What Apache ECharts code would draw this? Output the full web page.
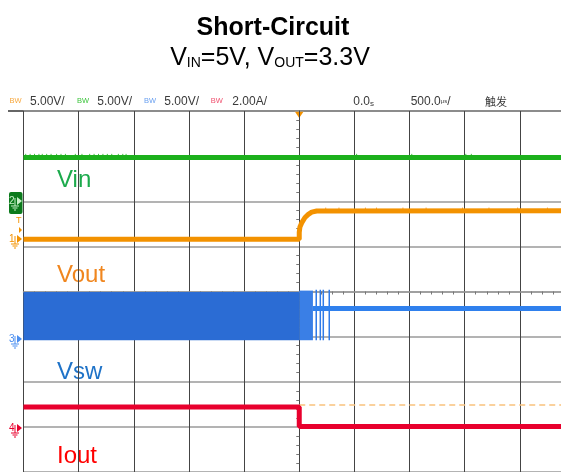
<!DOCTYPE html>
<html>
<head>
<meta charset="utf-8">
<script src="https://cdn.jsdelivr.net/npm/echarts@6/dist/echarts.min.js"></script>
<style>
  html, body { margin: 0; padding: 0; background: #fff; overflow: hidden; }
  #chart { width: 575px; height: 472px; }
</style>
</head>
<body>
<div id="chart"></div>
<script>
// 示波器截图：时间单位 us，电压单位 V，电流单位 A
var timeRange = [-2500, 2500];
var timePerDiv = 500;

// Vin (CH2)
var vinTime = [-2500, 2500];
var vinVolts = [4.85, 4.85];
// Vin 上的毛刺(时间点)
var vinSpikeTimes = [-2480, -2440, -2400, -2360, -2330, -2290, -2250, -2200, -2160, -2120,
    -2030, -1970, -1900, -1860, -1820, -1780, -1740, -1700, -1640, -1600, -1570, 520, 1020, 1510, 1560];

// Vout (CH1) 短路释放后恢复
var voutTime = [-2500, 0, 0, 6, 22, 52, 82, 113, 158, 2500];
var voutVolts = [0, 0, 0.75, 1.35, 1.8, 2.4, 2.75, 3.0, 3.12, 3.15];
var voutSpikeTimes = [240, 360, 600, 700, 940, 1150, 1480, 1720, 1980, 2250];

// Vsw (CH3) 开关带 + 之后的直流电平
var vswBandTime = [-2500, 0];
var vswBandHigh = 4.95;
var vswBandLow = -0.4;
var vswBand2Time = [0, 124];
var vswBand2High = 5.1;
var vswAfterTime = [124, 2500];
var vswAfterVolts = [3.12, 3.12];
var vswSpikeTimes = [154, 191, 218, 272];

// Iout (CH4)
var ioutTime = [-2500, 0, 0, 2500];
var ioutAmps = [0.88, 0.88, 0.02, 0.02];
var trigTime = [0, 2500];
var trigLevel = 0.97;

// 通道零点位置(格)和每格刻度
var offVin = 2, offVout = 1.16, offVsw = -1, offIout = -3;
var scaleV = 5, scaleI = 2;

function toDiv(times, vals, off, scale) {
    var out = [];
    for (var i = 0; i < times.length; i++) {
        out.push([times[i], off + vals[i] / scale]);
    }
    return out;
}

// 竖直短线(毛刺)，用 '-' 断开
function spikes(times, lo, hi, off, scale) {
    var out = [];
    for (var i = 0; i < times.length; i++) {
        out.push([times[i], off + lo / scale]);
        out.push([times[i], off + hi / scale]);
        out.push([times[i], '-']);
    }
    return out;
}

var vinData = toDiv(vinTime, vinVolts, offVin, scaleV);
var vinSpikes = spikes(vinSpikeTimes, 4.85, 5.25, offVin, scaleV);
var voutData = toDiv(voutTime, voutVolts, offVout, scaleV);
var voutSpikes = spikes(voutSpikeTimes, 3.15, 3.5, offVout, scaleV);
var vswBand = toDiv(vswBandTime, [vswBandHigh, vswBandHigh], offVsw, scaleV);
var vswBand2 = toDiv(vswBand2Time, [vswBand2High, vswBand2High], offVsw, scaleV);
var vswAfter = toDiv(vswAfterTime, vswAfterVolts, offVsw, scaleV);
var vswSpikes = spikes(vswSpikeTimes, vswBandLow, 5.2, offVsw, scaleV);
var ioutData = toDiv(ioutTime, ioutAmps, offIout, scaleI);
var trigData = toDiv(trigTime, [trigLevel, trigLevel], offIout, scaleI);

// 左侧通道标记
function marker(label, y, color) {
    return [
        { type: 'text', style: { text: label, x: 9, y: y, fill: color, font: '10px Liberation Sans', verticalAlign: 'middle' } },
        { type: 'polygon', shape: { points: [[17, y - 4], [22, y], [17, y + 4]] }, style: { fill: color } },
        { type: 'line', shape: { x1: 15, y1: y - 3, x2: 15, y2: y + 5 }, style: { stroke: color, lineWidth: 1 } },
        { type: 'line', shape: { x1: 11, y1: y + 5, x2: 19, y2: y + 5 }, style: { stroke: color, lineWidth: 1 } },
        { type: 'line', shape: { x1: 12.5, y1: y + 7, x2: 17.5, y2: y + 7 }, style: { stroke: color, lineWidth: 1 } },
        { type: 'line', shape: { x1: 14, y1: y + 9, x2: 16, y2: y + 9 }, style: { stroke: color, lineWidth: 1 } }
    ];
}

var hdrFont = '12px Liberation Sans';
var hdrY = 101.4;
var graphics = [
    { type: 'text', style: { text: 'Short-Circuit', x: 273, y: 28, textAlign: 'center', verticalAlign: 'middle', font: 'bold 25px Liberation Sans', fill: '#000' } },
    { type: 'text', style: { text: '{m|V}{s|IN}{m|=5V, V}{s|OUT}{m|=3.3V}', x: 270, y: 58, textAlign: 'center', verticalAlign: 'middle',
        rich: { m: { fontSize: 25, fontFamily: 'Liberation Sans', fill: '#000', verticalAlign: 'bottom' },
                s: { fontSize: 14, fontFamily: 'Liberation Sans', fill: '#000', verticalAlign: 'bottom' } } } },
    { type: 'text', style: { text: 'BW', x: 9.5, y: hdrY, verticalAlign: 'middle', font: '7.5px Liberation Sans', fill: '#f7a940' } },
    { type: 'text', style: { text: '5.00V/', x: 30, y: hdrY, verticalAlign: 'middle', font: hdrFont, fill: '#3a3a3a' } },
    { type: 'text', style: { text: 'BW', x: 77, y: hdrY, verticalAlign: 'middle', font: '7.5px Liberation Sans', fill: '#3cc43c' } },
    { type: 'text', style: { text: '5.00V/', x: 97.3, y: hdrY, verticalAlign: 'middle', font: hdrFont, fill: '#3a3a3a' } },
    { type: 'text', style: { text: 'BW', x: 144, y: hdrY, verticalAlign: 'middle', font: '7.5px Liberation Sans', fill: '#6aa0f0' } },
    { type: 'text', style: { text: '5.00V/', x: 164.3, y: hdrY, verticalAlign: 'middle', font: hdrFont, fill: '#3a3a3a' } },
    { type: 'text', style: { text: 'BW', x: 210.7, y: hdrY, verticalAlign: 'middle', font: '7.5px Liberation Sans', fill: '#f0506e' } },
    { type: 'text', style: { text: '2.00A/', x: 232.3, y: hdrY, verticalAlign: 'middle', font: hdrFont, fill: '#3a3a3a' } },
    { type: 'text', style: { text: '{n|0.0}{u|s}', x: 353.3, y: hdrY, verticalAlign: 'middle',
        rich: { n: { fontSize: 12, fontFamily: 'Liberation Sans', fill: '#3a3a3a' }, u: { fontSize: 8, fontFamily: 'Liberation Sans', fill: '#3a3a3a', verticalAlign: 'bottom' } } } },
    { type: 'text', style: { text: '{n|500.0}{u|μs}{n|/}', x: 410.7, y: hdrY, verticalAlign: 'middle',
        rich: { n: { fontSize: 12, fontFamily: 'Liberation Sans', fill: '#3a3a3a' }, u: { fontSize: 6, fontFamily: 'Liberation Sans', fill: '#3a3a3a' } } } },
    { type: 'text', style: { text: '触发', x: 485, y: hdrY, verticalAlign: 'middle', font: '11px "Noto Sans CJK SC"', fill: '#3a3a3a' } },
    { type: 'line', shape: { x1: 8, y1: 111, x2: 575, y2: 111 }, style: { stroke: '#333', lineWidth: 1.5 } },
    { type: 'polygon', shape: { points: [[294.5, 111], [304, 111], [299.2, 118]] }, style: { fill: '#f39200' } },
    { type: 'text', style: { text: 'Vin', x: 57, y: 180, verticalAlign: 'middle', font: '24px Liberation Sans', fill: '#1caa4c' } },
    { type: 'text', style: { text: 'Vout', x: 57, y: 275, verticalAlign: 'middle', font: '24px Liberation Sans', fill: '#f0861e' } },
    { type: 'text', style: { text: 'Vsw', x: 57, y: 372, verticalAlign: 'middle', font: '24px Liberation Sans', fill: '#1f73c8' } },
    { type: 'text', style: { text: 'Iout', x: 57, y: 456, verticalAlign: 'middle', font: '24px Liberation Sans', fill: '#ff0000' } },
    { type: 'rect', shape: { x: 9, y: 192, width: 13.5, height: 22, r: 2 }, style: { fill: '#0b7a1c' } },
    { type: 'text', style: { text: 'T', x: 16, y: 221, verticalAlign: 'middle', font: '9px Liberation Sans', fill: '#f39200' } },
    { type: 'polygon', shape: { points: [[19, 227], [22, 230], [19, 233]] }, style: { fill: '#f39200' } }
];
graphics = graphics.concat(marker('2', 201, '#c8f0c8'));
graphics = graphics.concat(marker('1', 239, '#f39200'));
graphics = graphics.concat(marker('3', 339, '#4a8ef0'));
graphics = graphics.concat(marker('4', 428, '#e8002d'));

var chart = echarts.init(document.getElementById('chart'));
var option = {
    animation: false,
    grid: { left: 23.5, right: 0, top: 111, bottom: -4 },
    xAxis: {
        type: 'value',
        min: timeRange[0],
        max: timeRange[1],
        interval: timePerDiv,
        axisLine: { show: true, onZero: true, lineStyle: { color: '#9a9a9a', width: 1.5 } },
        axisTick: { show: false },
        minorTick: { show: true, splitNumber: 5, length: 3, lineStyle: { color: '#777' } },
        axisLabel: { show: false },
        splitLine: { show: true, lineStyle: { color: '#444', width: 1 } }
    },
    yAxis: {
        type: 'value',
        min: -4,
        max: 4,
        interval: 1,
        axisLine: { show: true, onZero: true, lineStyle: { color: '#444', width: 1 } },
        axisTick: { show: false },
        minorTick: { show: true, splitNumber: 5, length: 3, lineStyle: { color: '#777' } },
        axisLabel: { show: false },
        splitLine: { show: true, lineStyle: { color: '#9a9a9a', width: 1.5 } }
    },
    series: [
        { name: 'Vsw', type: 'line', data: vswBand, symbol: 'none', lineStyle: { width: 0 },
          areaStyle: { color: '#2b6cd4', opacity: 1, origin: offVsw + vswBandLow / scaleV } },
        { name: 'Vsw2', type: 'line', data: vswBand2, symbol: 'none', lineStyle: { width: 0 },
          areaStyle: { color: '#3a7fe6', opacity: 1, origin: offVsw + vswBandLow / scaleV } },
        { name: 'VswSpike', type: 'line', data: vswSpikes, symbol: 'none', connectNulls: false, lineStyle: { color: '#2f7ae8', width: 1.5 } },
        { name: 'VswAfter', type: 'line', data: vswAfter, symbol: 'none', lineStyle: { color: '#2f80ed', width: 5 } },
        { name: 'VinSpike', type: 'line', data: vinSpikes, symbol: 'none', connectNulls: false, lineStyle: { color: '#3fbf3f', width: 1 } },
        { name: 'Vin', type: 'line', data: vinData, symbol: 'none', lineStyle: { color: '#1cb01c', width: 5 } },
        { name: 'VoutSpike', type: 'line', data: voutSpikes, symbol: 'none', connectNulls: false, lineStyle: { color: '#f5a540', width: 1 } },
        { name: 'Vout', type: 'line', data: voutData, symbol: 'none', lineStyle: { color: '#f39200', width: 5 } },
        { name: 'Trig', type: 'line', data: trigData, symbol: 'none', lineStyle: { color: '#f9c27e', width: 1.5, type: [6, 4] } },
        { name: 'Iout', type: 'line', data: ioutData, symbol: 'none', lineStyle: { color: '#e8002d', width: 5 } }
    ],
    graphic: graphics
};
chart.setOption(option);
</script>
</body>
</html>
